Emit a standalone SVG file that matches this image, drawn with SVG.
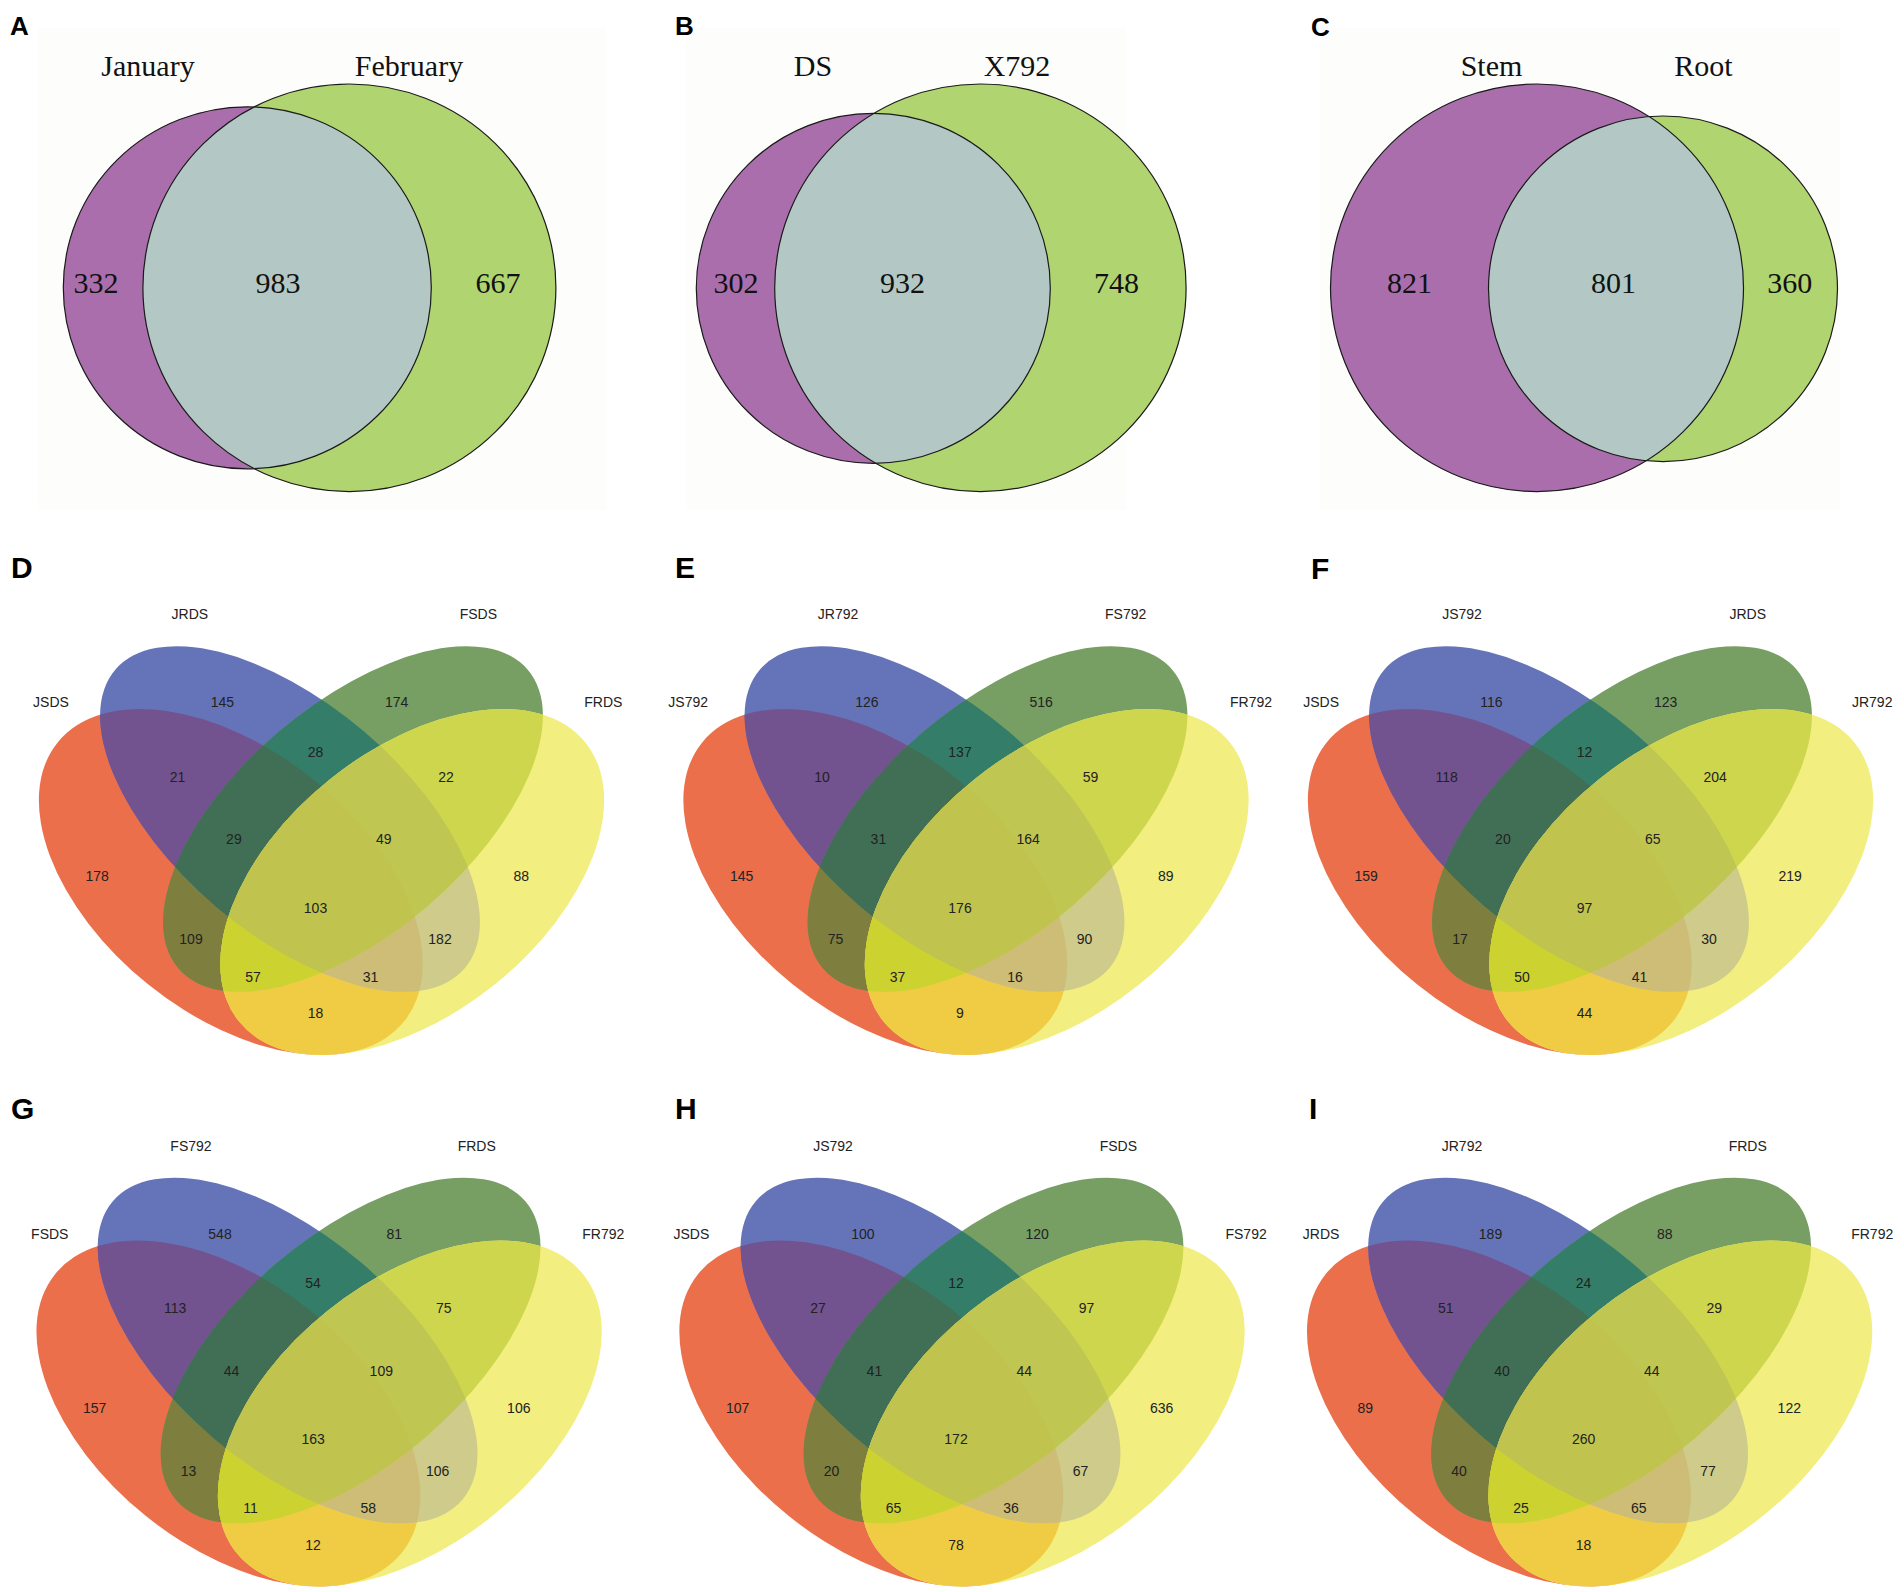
<svg xmlns="http://www.w3.org/2000/svg" xmlns:xlink="http://www.w3.org/1999/xlink" width="1904" height="1592" viewBox="0 0 1904 1592">
<style>
.bg{fill:#fdfdfb}
.pl{font-family:"Liberation Sans",Arial,sans-serif;font-weight:bold;fill:#000}
.t2{font-family:"Liberation Serif","Times New Roman",serif;font-size:30px;fill:#111;text-anchor:middle}
.t4{font-family:"Liberation Sans",Arial,sans-serif;font-size:14px;fill:#222;text-anchor:middle}
.pu{fill:#AA6EAD}
.gr{fill:#B0D470}
.ov{fill:#B3C8C5}
.ol{fill:none;stroke:#1a1a1a;stroke-width:1.2}
.cR{fill:#EC6F4B}.cB{fill:#6574B9}.cG{fill:#779E63}.cY{fill:#F2EE7F}
.cRB{fill:#72538F}.cRG{fill:#7E7E3E}.cRY{fill:#F0CC44}.cBG{fill:#347E69}.cBY{fill:#CECB8B}.cGY{fill:#CED64D}
.cRBG{fill:#416F56}.cRBY{fill:#CDBD77}.cRGY{fill:#CCD230}.cBGY{fill:#C0C652}.cRBGY{fill:#C0C44E}
</style>
<defs>
  <ellipse id="eR" cx="230.8" cy="882" rx="222.4" ry="131.6" transform="rotate(38.8 230.8 882)"/>
  <ellipse id="eB" cx="290" cy="819" rx="229.8" ry="114.6" transform="rotate(40.5 290 819)"/>
  <ellipse id="eG" cx="353" cy="819" rx="229.8" ry="114.6" transform="rotate(-40.5 353 819)"/>
  <ellipse id="eY" cx="412.2" cy="882" rx="222.4" ry="131.6" transform="rotate(-38.8 412.2 882)"/>
  <clipPath id="kR"><use href="#eR"/></clipPath>
  <clipPath id="kB"><use href="#eB"/></clipPath>
  <clipPath id="kG"><use href="#eG"/></clipPath>
  <g id="venn4">
    <use href="#eR" class="cR"/>
    <use href="#eB" class="cB"/>
    <use href="#eG" class="cG"/>
    <use href="#eY" class="cY"/>
    <g clip-path="url(#kR)">
      <use href="#eB" class="cRB"/>
      <use href="#eG" class="cRG"/>
      <use href="#eY" class="cRY"/>
    </g>
    <g clip-path="url(#kB)">
      <use href="#eG" class="cBG"/>
      <use href="#eY" class="cBY"/>
    </g>
    <g clip-path="url(#kG)">
      <use href="#eY" class="cGY"/>
    </g>
    <g clip-path="url(#kR)">
      <g clip-path="url(#kB)">
        <use href="#eG" class="cRBG"/>
        <use href="#eY" class="cRBY"/>
      </g>
      <g clip-path="url(#kG)">
        <use href="#eY" class="cRGY"/>
      </g>
    </g>
    <g clip-path="url(#kB)">
      <g clip-path="url(#kG)">
        <use href="#eY" class="cBGY"/>
      </g>
    </g>
    <g clip-path="url(#kR)">
      <g clip-path="url(#kB)">
        <g clip-path="url(#kG)">
          <use href="#eY" class="cRBGY"/>
        </g>
      </g>
    </g>
  </g>
  <ellipse id="aP" cx="247.3" cy="287.8" rx="184" ry="181"/>
  <ellipse id="aG" cx="349.4" cy="287.8" rx="206.5" ry="203.8"/>
  <ellipse id="bP" cx="873.3" cy="288.3" rx="177" ry="175"/>
  <ellipse id="bG" cx="980.4" cy="287.8" rx="205.7" ry="203.8"/>
  <ellipse id="cP" cx="1537" cy="287.8" rx="206.5" ry="203.8"/>
  <ellipse id="cG" cx="1663" cy="288.8" rx="174.5" ry="172.8"/>
  <clipPath id="kAP"><use href="#aP"/></clipPath>
  <clipPath id="kBP"><use href="#bP"/></clipPath>
  <clipPath id="kCP"><use href="#cP"/></clipPath>
</defs>
<rect width="1904" height="1592" fill="#ffffff"/>

<g id="panelA">
  <rect class="bg" x="38" y="28" width="568" height="482"/>
  <use href="#aP" class="pu"/>
  <use href="#aG" class="gr"/>
  <use href="#aG" class="ov" clip-path="url(#kAP)"/>
  <use href="#aP" class="ol"/>
  <use href="#aG" class="ol"/>
  <text class="pl" x="10" y="35" font-size="26">A</text>
  <text class="t2" x="148" y="76">January</text>
  <text class="t2" x="409" y="76">February</text>
  <text class="t2" x="96" y="293">332</text>
  <text class="t2" x="278" y="293">983</text>
  <text class="t2" x="498" y="293">667</text>
</g>

<g id="panelB">
  <rect class="bg" x="686" y="28" width="440" height="482"/>
  <use href="#bP" class="pu"/>
  <use href="#bG" class="gr"/>
  <use href="#bG" class="ov" clip-path="url(#kBP)"/>
  <use href="#bP" class="ol"/>
  <use href="#bG" class="ol"/>
  <text class="pl" x="675" y="35" font-size="26">B</text>
  <text class="t2" x="813" y="76">DS</text>
  <text class="t2" x="1017" y="76">X792</text>
  <text class="t2" x="736" y="293">302</text>
  <text class="t2" x="902.5" y="293">932</text>
  <text class="t2" x="1116.6" y="293">748</text>
</g>

<g id="panelC">
  <rect class="bg" x="1320" y="28" width="520" height="482"/>
  <use href="#cP" class="pu"/>
  <use href="#cG" class="gr"/>
  <use href="#cG" class="ov" clip-path="url(#kCP)"/>
  <use href="#cP" class="ol"/>
  <use href="#cG" class="ol"/>
  <text class="pl" x="1311" y="36" font-size="26">C</text>
  <text class="t2" x="1491.5" y="76">Stem</text>
  <text class="t2" x="1703.5" y="76">Root</text>
  <text class="t2" x="1409.5" y="293">821</text>
  <text class="t2" x="1613.6" y="293">801</text>
  <text class="t2" x="1789.7" y="293">360</text>
</g>

<g id="panelD">
  <text class="pl" x="11" y="578" font-size="30">D</text>
  <use href="#venn4"/>
  <g class="t4">
    <text x="51" y="707.3">JSDS</text><text x="189.8" y="619.3">JRDS</text><text x="478.4" y="619.3">FSDS</text><text x="603.3" y="707.3">FRDS</text>
    <text x="222.4" y="707.3">145</text><text x="396.7" y="707.3">174</text><text x="315.5" y="756.7">28</text>
    <text x="177.6" y="781.7">21</text><text x="446.1" y="781.7">22</text>
    <text x="233.9" y="844.3">29</text><text x="383.7" y="844.3">49</text>
    <text x="97.1" y="881">178</text><text x="521.2" y="881">88</text>
    <text x="315.5" y="912.7">103</text>
    <text x="191" y="944">109</text><text x="440" y="944">182</text>
    <text x="253" y="981.7">57</text><text x="370.6" y="981.7">31</text>
    <text x="315.5" y="1018.3">18</text>
  </g>
</g>

<g id="panelE">
  <text class="pl" x="675" y="578" font-size="30">E</text>
  <g transform="translate(644.5,0)">
  <use href="#venn4"/>
  <g class="t4">
    <text x="43.7" y="707.3">JS792</text><text x="193.5" y="619.3">JR792</text><text x="481.2" y="619.3">FS792</text><text x="606.5" y="707.3">FR792</text>
    <text x="222.4" y="707.3">126</text><text x="396.7" y="707.3">516</text><text x="315.5" y="756.7">137</text>
    <text x="177.6" y="781.7">10</text><text x="446.1" y="781.7">59</text>
    <text x="233.9" y="844.3">31</text><text x="383.7" y="844.3">164</text>
    <text x="97.1" y="881">145</text><text x="521.2" y="881">89</text>
    <text x="315.5" y="912.7">176</text>
    <text x="191" y="944">75</text><text x="440" y="944">90</text>
    <text x="253" y="981.7">37</text><text x="370.6" y="981.7">16</text>
    <text x="315.5" y="1018.3">9</text>
  </g>
  </g>
</g>

<g id="panelF">
  <text class="pl" x="1311" y="579" font-size="30">F</text>
  <g transform="translate(1269,0)">
  <use href="#venn4"/>
  <g class="t4">
    <text x="52.1" y="707.3">JSDS</text><text x="193" y="619.3">JS792</text><text x="478.7" y="619.3">JRDS</text><text x="603.2" y="707.3">JR792</text>
    <text x="222.4" y="707.3">116</text><text x="396.7" y="707.3">123</text><text x="315.5" y="756.7">12</text>
    <text x="177.6" y="781.7">118</text><text x="446.1" y="781.7">204</text>
    <text x="233.9" y="844.3">20</text><text x="383.7" y="844.3">65</text>
    <text x="97.1" y="881">159</text><text x="521.2" y="881">219</text>
    <text x="315.5" y="912.7">97</text>
    <text x="191" y="944">17</text><text x="440" y="944">30</text>
    <text x="253" y="981.7">50</text><text x="370.6" y="981.7">41</text>
    <text x="315.5" y="1018.3">44</text>
  </g>
  </g>
</g>

<g id="panelG">
  <text class="pl" x="11" y="1119" font-size="30">G</text>
  <g transform="translate(-2.4,531.5)">
  <use href="#venn4"/>
  <g class="t4">
    <text x="52.2" y="707.3">FSDS</text><text x="193.4" y="619.3">FS792</text><text x="479.1" y="619.3">FRDS</text><text x="605.7" y="707.3">FR792</text>
    <text x="222.4" y="707.3">548</text><text x="396.7" y="707.3">81</text><text x="315.5" y="756.7">54</text>
    <text x="177.6" y="781.7">113</text><text x="446.1" y="781.7">75</text>
    <text x="233.9" y="844.3">44</text><text x="383.7" y="844.3">109</text>
    <text x="97.1" y="881">157</text><text x="521.2" y="881">106</text>
    <text x="315.5" y="912.7">163</text>
    <text x="191" y="944">13</text><text x="440" y="944">106</text>
    <text x="253" y="981.7">11</text><text x="370.6" y="981.7">58</text>
    <text x="315.5" y="1018.3">12</text>
  </g>
  </g>
</g>

<g id="panelH">
  <text class="pl" x="675" y="1119" font-size="30">H</text>
  <g transform="translate(640.5,531.5)">
  <use href="#venn4"/>
  <g class="t4">
    <text x="50.9" y="707.3">JSDS</text><text x="192.5" y="619.3">JS792</text><text x="477.9" y="619.3">FSDS</text><text x="605.6" y="707.3">FS792</text>
    <text x="222.4" y="707.3">100</text><text x="396.7" y="707.3">120</text><text x="315.5" y="756.7">12</text>
    <text x="177.6" y="781.7">27</text><text x="446.1" y="781.7">97</text>
    <text x="233.9" y="844.3">41</text><text x="383.7" y="844.3">44</text>
    <text x="97.1" y="881">107</text><text x="521.2" y="881">636</text>
    <text x="315.5" y="912.7">172</text>
    <text x="191" y="944">20</text><text x="440" y="944">67</text>
    <text x="253" y="981.7">65</text><text x="370.6" y="981.7">36</text>
    <text x="315.5" y="1018.3">78</text>
  </g>
  </g>
</g>

<g id="panelI">
  <text class="pl" x="1309" y="1119" font-size="30">I</text>
  <g transform="translate(1268.1,531.5)">
  <use href="#venn4"/>
  <g class="t4">
    <text x="53" y="707.3">JRDS</text><text x="193.9" y="619.3">JR792</text><text x="479.6" y="619.3">FRDS</text><text x="604.1" y="707.3">FR792</text>
    <text x="222.4" y="707.3">189</text><text x="396.7" y="707.3">88</text><text x="315.5" y="756.7">24</text>
    <text x="177.6" y="781.7">51</text><text x="446.1" y="781.7">29</text>
    <text x="233.9" y="844.3">40</text><text x="383.7" y="844.3">44</text>
    <text x="97.1" y="881">89</text><text x="521.2" y="881">122</text>
    <text x="315.5" y="912.7">260</text>
    <text x="191" y="944">40</text><text x="440" y="944">77</text>
    <text x="253" y="981.7">25</text><text x="370.6" y="981.7">65</text>
    <text x="315.5" y="1018.3">18</text>
  </g>
  </g>
</g>
</svg>
